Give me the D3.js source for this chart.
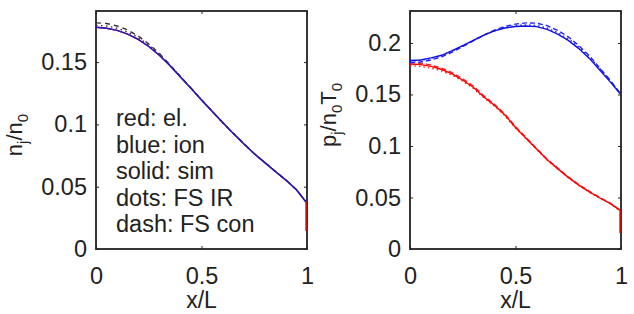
<!DOCTYPE html>
<html><head><meta charset="utf-8">
<script src="https://cdn.jsdelivr.net/npm/d3@7"></script>
<style>body{margin:0;background:#fff}svg{display:block}text{font-family:"Liberation Sans",Arial,sans-serif;fill:#222}</style>
</head><body><svg id="c" width="634" height="314"></svg>
<script>
const xs = [0,0.05,0.1,0.15,0.2,0.25,0.3,0.35,0.4,0.45,0.5,0.55,0.6,0.65,0.7,0.75,0.8,0.85,0.9,0.95,1.0];
// Left panel: density n_j/n_0
const nIonSim = [0.178,0.1772,0.1755,0.1725,0.1682,0.1625,0.1555,0.1472,0.138,0.129,0.1196,0.1105,0.1015,0.0928,0.0845,0.0765,0.0693,0.0622,0.0553,0.0475,0.0377];
const nElSim  = [0.178,0.1772,0.1755,0.1725,0.1682,0.1625,0.1555,0.1472,0.138,0.129,0.1196,0.1105,0.1015,0.0928,0.0845,0.0765,0.0693,0.0622,0.0553,0.0475,0.0377];
const nElWallDrop = 0.0144;
const nFSCon = [0.1815,0.181,0.179,0.1758,0.171,0.1645,0.157,0.148,0.1385,0.1292,0.1198,0.1106,0.1016,0.0929,0.0846,0.0766,0.0694,0.0623,0.0554,0.0476,0.0378];
const nFSIR  = [0.1795,0.179,0.1772,0.1742,0.1697,0.1636,0.1562,0.1476,0.1383,0.1291,0.1197,0.1105,0.1015,0.0929,0.0846,0.0766,0.0694,0.0623,0.0553,0.0476,0.0377];
// Right panel: pressure p_j/n_0T_0
const pIonSim = [0.183,0.1835,0.1855,0.188,0.1925,0.1975,0.2025,0.2075,0.2117,0.2145,0.216,0.2165,0.2158,0.2132,0.2085,0.2025,0.1945,0.185,0.1735,0.162,0.151];
const pIonCon = [0.181,0.1815,0.1835,0.1865,0.191,0.1965,0.202,0.2075,0.2125,0.216,0.2183,0.2195,0.2192,0.2168,0.2122,0.206,0.1975,0.1875,0.1755,0.1635,0.1515];
const pIonIR  = [0.1825,0.183,0.185,0.1878,0.192,0.197,0.2022,0.2075,0.2118,0.215,0.2168,0.2175,0.217,0.2145,0.21,0.204,0.196,0.1865,0.175,0.163,0.151];
const pElSim  = [0.1795,0.179,0.1772,0.1742,0.17,0.1638,0.157,0.1475,0.1395,0.13,0.118,0.1075,0.097,0.0867,0.078,0.0695,0.062,0.0555,0.0495,0.044,0.0374];
const pElCon  = [0.181,0.1803,0.1785,0.1755,0.1712,0.1652,0.1582,0.1487,0.1405,0.1308,0.1188,0.1082,0.0975,0.0872,0.0785,0.07,0.0625,0.056,0.05,0.0444,0.0378];
const pElIR   = [0.1778,0.1772,0.1755,0.1727,0.1687,0.1627,0.156,0.1467,0.1388,0.1293,0.1175,0.1072,0.0967,0.0865,0.0778,0.0693,0.0618,0.0552,0.0493,0.0437,0.0372];
const pElWallDrop = 0.0155;
const xTicks = [0,0.5,1];
const xTickLabels = ["0","0.5","1"];
const yTicksL = [0,0.05,0.1,0.15];
const yTickLabelsL = ["0","0.05","0.1","0.15"];
const yTicksR = [0,0.05,0.1,0.15,0.2];
const yTickLabelsR = ["0","0.05","0.1","0.15","0.2"];
const legendLines = ["red: el.","blue: ion","solid: sim","dots: FS IR","dash: FS con"];

const svg = d3.select("#c");
const FS = 23.5;

function panel(x0,x1,y0,y1,ymax,yT,yTL){
  const x = d3.scaleLinear().domain([0,1]).range([x0,x1]);
  const y = d3.scaleLinear().domain([0,ymax]).range([y1,y0]);
  const g = svg.append("g");
  g.append("rect").attr("x",x0).attr("y",y0).attr("width",x1-x0).attr("height",y1-y0).attr("fill","none").attr("stroke","#222").attr("stroke-width",1.8);
  const axB = g.append("g").attr("transform",`translate(0,${y1})`).call(d3.axisBottom(x).tickValues(xTicks).tickFormat((d,i)=>xTickLabels[i]).tickSizeInner(-3).tickSizeOuter(0).tickPadding(13.5));
  const axT = g.append("g").attr("transform",`translate(0,${y0})`).call(d3.axisTop(x).tickValues(xTicks).tickFormat("").tickSizeInner(-3).tickSizeOuter(0));
  const axL = g.append("g").attr("transform",`translate(${x0},0)`).call(d3.axisLeft(y).tickValues(yT).tickFormat((d,i)=>yTL[i]).tickSizeInner(-3).tickSizeOuter(0).tickPadding(9));
  const axR = g.append("g").attr("transform",`translate(${x1},0)`).call(d3.axisRight(y).tickValues(yT).tickFormat("").tickSizeInner(-3).tickSizeOuter(0));
  [axB,axT,axL,axR].forEach(a=>{a.select(".domain").remove();a.selectAll("line").attr("stroke","#222");a.selectAll("text").attr("font-size",FS).attr("font-family","Liberation Sans, Arial, sans-serif").attr("fill","#222");});
  axB.selectAll("text").attr("dy","0.9em");
  const gl = g.append("g");
  g.append("text").attr("x",(x0+x1)/2).attr("y",308).attr("text-anchor","middle").attr("font-size",23).text("x/L");
  return {x,y,gl};
}

function drawLine(p, vals, color, dash, extra){
  const pts = xs.map((d,i)=>[d,vals[i]]);
  if(extra!==undefined) pts.push([1,extra]);
  p.gl.append("path").datum(pts).attr("fill","none").attr("stroke",color).attr("stroke-width",1.4)
    .attr("stroke-dasharray",dash||null)
    .attr("d",d3.line().x(d=>Math.min(p.x(d[0]),p.x.range()[1]-1)).y(d=>p.y(d[1])));
}

const L = panel(96,307,11,249,0.191,yTicksL,yTickLabelsL);
drawLine(L,nElSim,"#ff0000",null,nElWallDrop);
drawLine(L,nFSIR,"#333","1.5,3.5");
drawLine(L,nFSCon,"#333","5,4");
drawLine(L,nIonSim,"#1a1acc",null);

const R = panel(410,621,11,249,0.231,yTicksR,yTickLabelsR);
drawLine(R,pElIR,"#ff2020","1.5,3");
drawLine(R,pElCon,"#ff2020","5,3");
drawLine(R,pElSim,"#ff0000",null,pElWallDrop);
drawLine(R,pIonIR,"#2020ff","1.5,3");
drawLine(R,pIonCon,"#2020ff","5,3");
drawLine(R,pIonSim,"#1010e0",null);

// legend
const lgY = [126,152.5,179,205.5,232];
legendLines.forEach((t,i)=>svg.append("text").attr("x",116).attr("y",lgY[i]).attr("font-size",FS).text(t));

// y labels
function ylab(cx,cy,parts){
  const t = svg.append("text").attr("transform",`translate(${cx},${cy}) rotate(-90)`).attr("text-anchor","middle").attr("font-size",22);
  parts.forEach(p=>{
    const s = t.append("tspan").text(p[0]);
    if(p[1]) s.attr("font-size",15).attr("baseline-shift",-6);
  });
}
ylab(22,135,[["n"],["j",1],["/n"],["0",1]]);
ylab(336,115,[["p"],["j",1],["/n"],["0",1],["T"],["0",1]]);
</script></body></html>
